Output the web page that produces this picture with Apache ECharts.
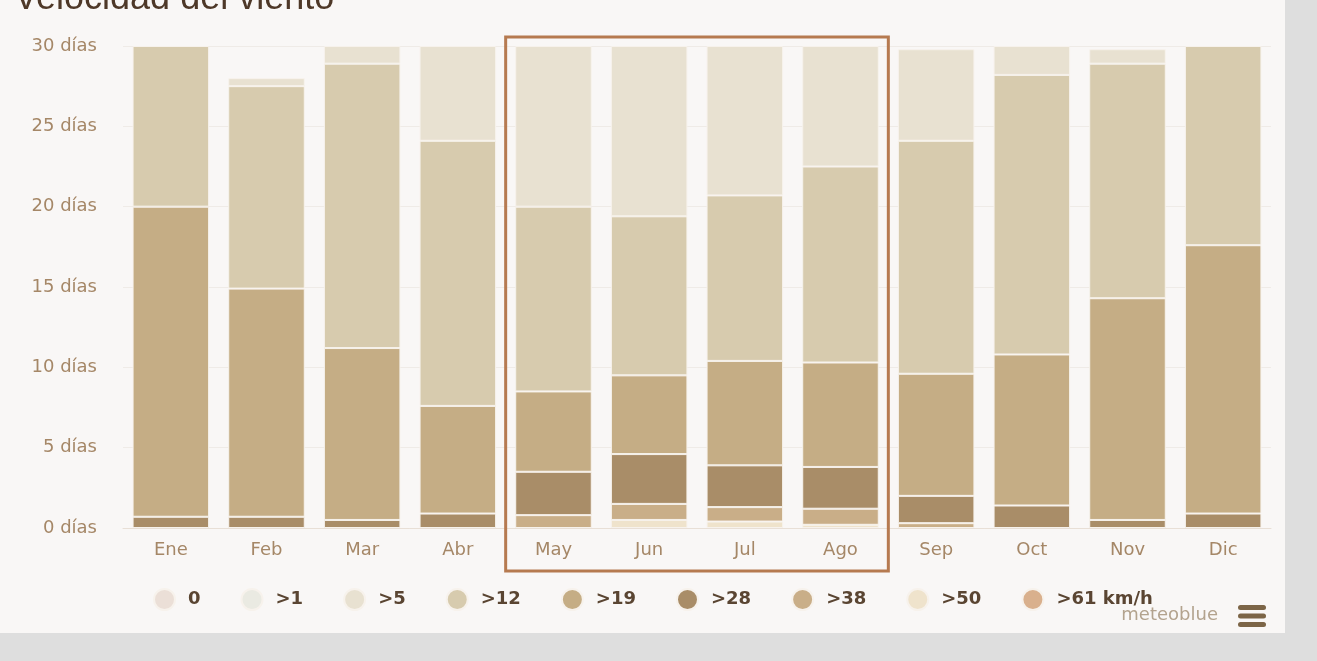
<!DOCTYPE html>
<html>
<head>
<meta charset="utf-8">
<script src="https://cdn.jsdelivr.net/npm/echarts@6/dist/echarts.min.js"></script>
<style>
  html, body { margin: 0; padding: 0; background: #dedede; }
  #chart { width: 1285px; height: 633px; background: #f9f7f6; }
</style>
</head>
<body>
<div id="chart"></div>
<script>
  // días por mes en cada clase de velocidad del viento
  const months = ['Ene', 'Feb', 'Mar', 'Abr', 'May', 'Jun', 'Jul', 'Ago', 'Sep', 'Oct', 'Nov', 'Dic']
  const calm = [0, 0, 0, 0, 0, 0, 0, 0, 0, 0, 0, 0]
  const over1 = [0, 0, 0, 0, 0, 0, 0, 0, 0, 0, 0, 0]
  const over5 = [0, 0.5, 1.1, 5.9, 10, 10.6, 9.3, 7.5, 5.7, 1.8, 0.9, 0]
  const over12 = [10, 12.6, 17.7, 16.5, 11.5, 9.9, 10.3, 12.2, 14.5, 17.4, 14.6, 12.4]
  const over19 = [19.3, 14.2, 10.7, 6.7, 5, 4.9, 6.5, 6.5, 7.6, 9.4, 13.8, 16.7]
  const over28 = [0.7, 0.7, 0.5, 0.9, 2.7, 3.1, 2.6, 2.6, 1.7, 1.4, 0.5, 0.9]
  const over38 = [0, 0, 0, 0, 0.8, 1.0, 0.9, 1.0, 0.3, 0, 0, 0]
  const over50 = [0, 0, 0, 0, 0, 0.5, 0.4, 0.2, 0, 0, 0, 0]
  const over61 = [0, 0, 0, 0, 0, 0, 0, 0, 0, 0, 0, 0]
  const yTicks = [0, 5, 10, 15, 20, 25, 30]

  const classes = [
    { name: '0', data: calm, color: '#ebdfd7' },
    { name: '>1', data: over1, color: '#eaeae2' },
    { name: '>5', data: over5, color: '#e8e1d1' },
    { name: '>12', data: over12, color: '#d7cbae' },
    { name: '>19', data: over19, color: '#c5ad85' },
    { name: '>28', data: over28, color: '#a98d68' },
    { name: '>38', data: over38, color: '#c9ae88' },
    { name: '>50', data: over50, color: '#efe3cc' },
    { name: '>61 km/h', data: over61, color: '#d9b08d' }
  ]

  const chart = echarts.init(document.getElementById('chart'))

  // la clase más fuerte va abajo del apilado
  const series = classes.slice().reverse().map((c) => ({
    name: c.name,
    type: 'bar',
    stack: 'dias',
    barCategoryGap: '20%',
    color: c.color,
    itemStyle: { borderColor: '#f7f2ec', borderWidth: 1 },
    data: c.data.map((v) => (v === 0 ? null : v))
  }))

  chart.setOption({
    animation: false,
    textStyle: { fontFamily: 'DejaVu Sans' },
    title: {
      text: 'Velocidad del viento',
      left: 9,
      top: -24,
      textStyle: { fontFamily: 'Liberation Sans', fontSize: 36, fontWeight: 'normal', color: '#4e3828' }
    },
    legend: {
      data: classes.map((c) => c.name),
      left: 148,
      top: 583,
      icon: 'circle',
      itemWidth: 21,
      itemHeight: 21,
      itemGap: 40,
      textStyle: { fontSize: 18, fontWeight: 'bold', color: '#5a4532', padding: [0, 0, 0, 8] }
    },
    grid: { left: 123, right: 14, top: 46, bottom: 105 },
    xAxis: {
      type: 'category',
      data: months,
      axisLine: { lineStyle: { color: '#e8dfd6' } },
      axisTick: { alignWithLabel: true, length: 12, lineStyle: { color: '#ebe3dc' } },
      axisLabel: { color: '#a58767', fontSize: 18, margin: 13 }
    },
    yAxis: {
      type: 'value',
      min: yTicks[0],
      max: yTicks[yTicks.length - 1],
      interval: yTicks[1] - yTicks[0],
      axisLabel: { formatter: '{value} días', color: '#a58767', fontSize: 18, margin: 26 },
      splitLine: { lineStyle: { color: '#efebe7' } }
    },
    series: series
  })

  // recuadro de los meses de verano, calculado desde los ejes
  const xMay = chart.convertToPixel({ xAxisIndex: 0 }, 'May')
  const xJun = chart.convertToPixel({ xAxisIndex: 0 }, 'Jun')
  const xAgo = chart.convertToPixel({ xAxisIndex: 0 }, 'Ago')
  const band = xJun - xMay
  const yTop = chart.convertToPixel({ yAxisIndex: 0 }, yTicks[yTicks.length - 1])
  const yBottom = chart.convertToPixel({ yAxisIndex: 0 }, yTicks[0])

  chart.setOption({
    graphic: [
      {
        type: 'rect',
        shape: { x: xMay - band / 2, y: yTop - 9, width: xAgo - xMay + band, height: yBottom - yTop + 52 },
        style: { fill: 'none', stroke: '#b67a50', lineWidth: 3 },
        z: 100
      },
      {
        type: 'text',
        right: 67,
        top: 606,
        style: { text: 'meteoblue', fill: '#b3a38e', font: '18px "DejaVu Sans"' }
      },
      {
        type: 'group',
        right: 19,
        top: 605,
        children: [0, 8.5, 17].map((dy) => ({
          type: 'rect',
          shape: { x: 0, y: dy, width: 28, height: 5, r: 2.5 },
          style: { fill: '#7c6547' }
        }))
      }
    ]
  })
</script>
</body>
</html>
